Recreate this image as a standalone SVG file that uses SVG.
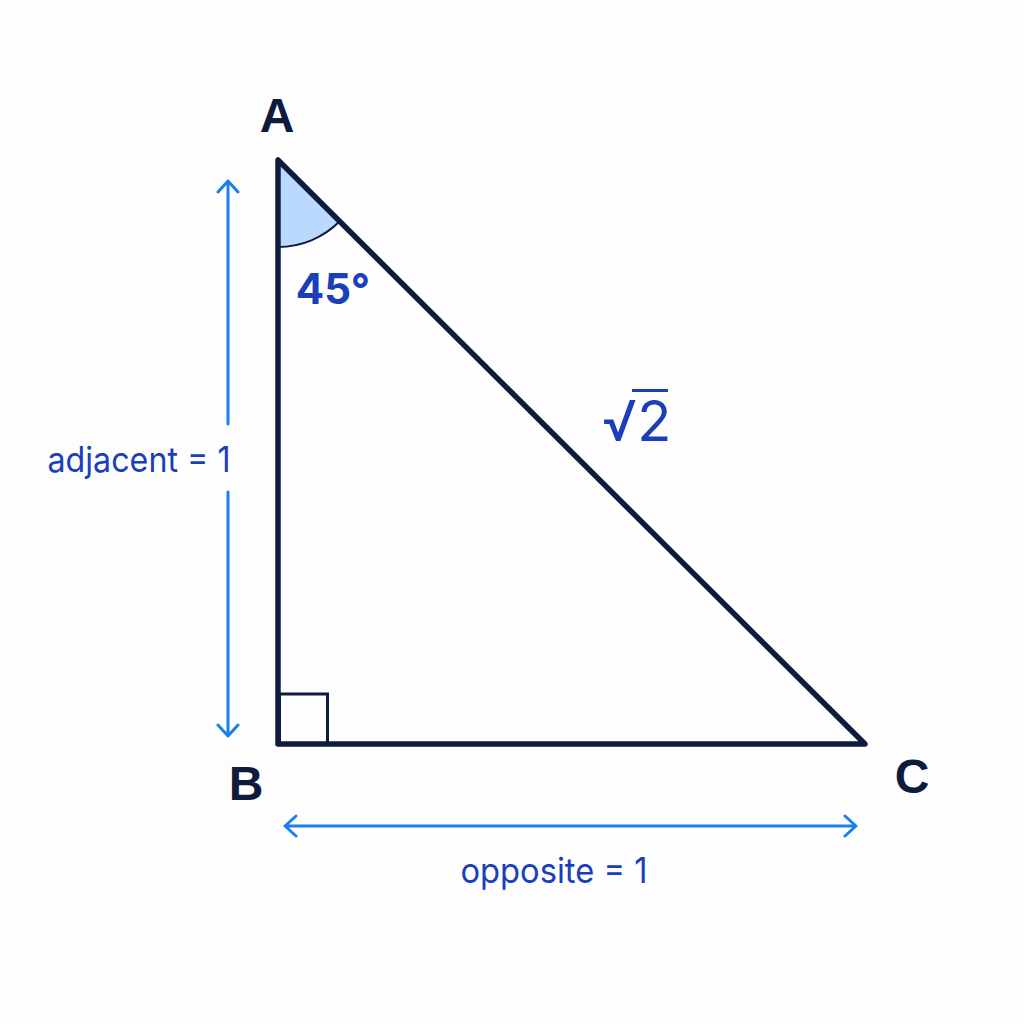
<svg xmlns="http://www.w3.org/2000/svg" width="1024" height="1024" viewBox="0 0 1024 1024">
<defs>
<style>
.tri{fill:none;stroke:#0f1b3d;stroke-width:5.5;stroke-linejoin:round;stroke-linecap:round}
.thin{fill:none;stroke:#0f1b3d;stroke-width:3}
.dim{fill:none;stroke:#1a80ea;stroke-width:3;stroke-linecap:round;stroke-linejoin:round}
.vx{font-family:"Liberation Sans",Arial,sans-serif;font-weight:bold;font-size:48px;fill:#0f1b3d;text-anchor:middle}
.lbl{font-family:Inter,"Liberation Sans",sans-serif;font-size:35px;fill:#1a3fb8;text-anchor:middle}
.big{font-family:Inter,"Liberation Sans",sans-serif;font-weight:bold;font-size:42px;fill:#1a3fb8;text-anchor:middle}
</style>
</defs>
<rect width="1024" height="1024" fill="#fdfdfd"/>
<g id="angle">
<path d="M278,160 L278,247 A87,87 0 0 0 339.7,221.3 Z" fill="#b9dafd"/>
<path d="M278,247 A87,87 0 0 0 339.7,221.3" fill="none" stroke="#0f1b3d" stroke-width="2"/>
</g>
<g id="triangle">
<path class="tri" d="M278,160 L278,744 L865,744 Z"/>
<rect class="thin" x="279.5" y="694" width="48" height="50"/>
</g>
<g id="connectors">
<path class="dim" d="M228,181 L228,424 M228,492 L228,736 M218,192 L228,181 L238,192 M218,725 L228,736 L238,725"/>
<path class="dim" d="M285,826 L856,826 M296,816 L285,826 L296,836 M845,816 L856,826 L845,836"/>
</g>
<g id="labels">
<text class="vx" x="277" y="132">A</text>
<text class="vx" x="246" y="800">B</text>
<text class="vx" x="912" y="793">C</text>
<text class="big" x="333" y="304">45°</text>
<g id="hyp">
<text x="602" y="441" font-family="Inter,'Liberation Sans',sans-serif" font-size="56" fill="#1a3fb8">√2</text>
<line x1="632" y1="390.5" x2="668" y2="390.5" stroke="#1a3fb8" stroke-width="3"/>
</g>
<text class="lbl" x="139" y="472" textLength="183" lengthAdjust="spacingAndGlyphs">adjacent = 1</text>
<text class="lbl" x="554" y="883" textLength="187" lengthAdjust="spacingAndGlyphs">opposite = 1</text>
</g>
</svg>
